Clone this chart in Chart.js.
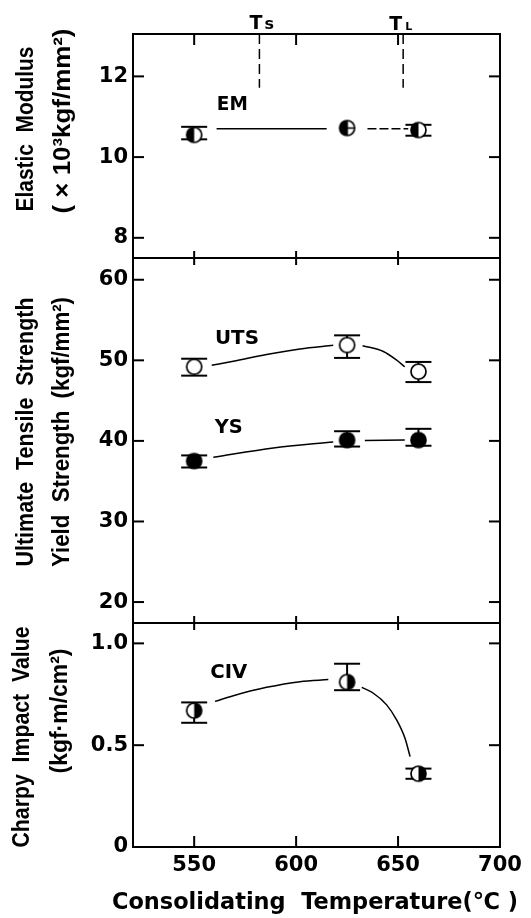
<!DOCTYPE html>
<html>
<head>
<meta charset="utf-8">
<script src="https://cdn.jsdelivr.net/npm/chart.js@4.4.0/dist/chart.umd.min.js"></script>
<style>
  html, body { margin: 0; padding: 0; background: #fff; }
  #wrap { width: 531px; height: 918px; }
</style>
</head>
<body>
<div id="wrap"><canvas id="c" width="531" height="918"></canvas></div>
<script>
// consolidating temperatures (degC)
var temps = [550, 625, 660];

// elastic modulus (x10^3 kgf/mm2)
var emVals = [10.55, 10.72, 10.67];
var emLo = [10.44, 10.72, 10.53];
var emHi = [10.75, 10.72, 10.80];

// ultimate tensile / yield strength (kgf/mm2)
var utsVals = [49.2, 51.9, 48.6];
var utsLo = [48.1, 50.3, 47.3];
var utsHi = [50.2, 53.1, 49.8];
var ysVals = [37.5, 40.1, 40.1];
var ysLo = [36.7, 39.3, 39.4];
var ysHi = [38.2, 41.2, 41.5];

// charpy impact value (kgf.m/cm2)
var civVals = [0.67, 0.81, 0.36];
var civLo = [0.61, 0.77, 0.335];
var civHi = [0.71, 0.90, 0.385];

// hand drawn trend curves, null = break in the line
var emCurveX = [561, 615, 625, 635, 655];
var emCurveY = [10.7, 10.7, null, 10.7, 10.7];
var utsCurveX = [558.6, 569.2, 585.5, 601.9, 618.2, 625, 632.6, 642.8, 649.0, 653.3];
var utsCurveY = [49.38, 49.88, 50.71, 51.41, 51.86, null, 51.82, 51.1, 50.08, 49.2];
var ysCurveX = [559.4, 588.8, 618.2, 625, 633.7, 653.3];
var ysCurveY = [37.97, 39.13, 39.87, null, 40.05, 40.1];
var civCurveX = [560.2, 569.2, 585.5, 601.9, 615.8, 625, 632.2, 637.9, 644.4, 649.3, 653.4, 655.9];
var civCurveY = [0.715, 0.743, 0.784, 0.812, 0.822, null, 0.784, 0.755, 0.698, 0.624, 0.534, 0.444];

// axes
var xTicks = [550, 600, 650, 700];
var emTicks = [8, 10, 12];
var emTickLabels = ['8', '10', '12'];
var strTicks = [20, 30, 40, 50, 60];
var strTickLabels = ['20', '30', '40', '50', '60'];
var civTicks = [0, 0.5, 1.0];
var civTickLabels = ['0', '0.5', '1.0'];

// solidus / liquidus marks
var tsTemp = 582;
var tlTemp = 652.5;
var tMarkBottom = 11.72;

var numFont = { family: 'DejaVu Sans', size: 21, weight: 'bold' };

function pts(xs, ys) {
  return xs.map(function (x, i) { return { x: x, y: ys[i] }; });
}

function mk(kind) {
  var r = 7.5, s = 2 * r + 4, c = s / 2;
  var cv = document.createElement('canvas');
  cv.width = s; cv.height = s;
  var g = cv.getContext('2d');
  g.beginPath(); g.arc(c, c, r, 0, 2 * Math.PI);
  g.fillStyle = kind == 'filled' ? '#000' : '#fff';
  g.fill();
  if (kind == 'left' || kind == 'cross') {
    g.beginPath(); g.moveTo(c, c);
    g.arc(c, c, r, -Math.PI / 2, Math.PI / 2, true);
    g.closePath(); g.fillStyle = '#000'; g.fill();
  }
  if (kind == 'right') {
    g.beginPath(); g.moveTo(c, c);
    g.arc(c, c, r, -Math.PI / 2, Math.PI / 2, false);
    g.closePath(); g.fillStyle = '#000'; g.fill();
  }
  g.lineWidth = 1.7; g.strokeStyle = '#000';
  g.beginPath(); g.arc(c, c, r, 0, 2 * Math.PI); g.stroke();
  if (kind == 'cross') {
    g.beginPath();
    g.moveTo(c - r, c); g.lineTo(c + r, c);
    g.moveTo(c, c - r); g.lineTo(c, c + r);
    g.stroke();
  }
  return cv;
}

function yScale(weight, min, max, ticks, labels) {
  return {
    type: 'linear', position: 'left', stack: 'panels', stackWeight: weight,
    min: min, max: max,
    grid: { display: false, drawTicks: false },
    border: { display: false },
    ticks: {
      font: numFont, color: '#000', padding: 5, autoSkip: false,
      callback: function (v, i) { return labels[i]; }
    },
    afterBuildTicks: function (s) { s.ticks = ticks.map(function (v) { return { value: v }; }); },
    afterFit: function (s) { s.width = 133; }
  };
}

function line(ctx, x1, y1, x2, y2) {
  ctx.beginPath(); ctx.moveTo(x1, y1); ctx.lineTo(x2, y2); ctx.stroke();
}

function fitText(ctx, s, cx, cy, font, width, rotated) {
  ctx.save();
  ctx.translate(cx, cy);
  if (rotated) ctx.rotate(-Math.PI / 2);
  ctx.font = font;
  ctx.textAlign = 'center';
  ctx.textBaseline = 'middle';
  var w = ctx.measureText(s).width;
  if (width) ctx.scale(width / w, 1);
  ctx.fillText(s, 0, 0);
  ctx.restore();
}

var errSeries = [
  { axis: 'yEM', lo: emLo, hi: emHi },
  { axis: 'yStr', lo: utsLo, hi: utsHi },
  { axis: 'yStr', lo: ysLo, hi: ysHi },
  { axis: 'yCIV', lo: civLo, hi: civHi }
];

var deco = {
  id: 'deco',
  beforeDatasetsDraw: function (chart) {
    var ctx = chart.ctx, xs = chart.scales.x;
    ctx.save();
    ctx.strokeStyle = '#000'; ctx.lineWidth = 2;
    errSeries.forEach(function (e) {
      var ys = chart.scales[e.axis];
      temps.forEach(function (t, i) {
        if (e.lo[i] == e.hi[i]) return;
        var px = xs.getPixelForValue(t);
        var y1 = ys.getPixelForValue(e.lo[i]), y2 = ys.getPixelForValue(e.hi[i]);
        line(ctx, px, y1, px, y2);
        line(ctx, px - 13, y1, px + 13, y1);
        line(ctx, px - 13, y2, px + 13, y2);
      });
    });
    ctx.restore();
  },
  afterDraw: function (chart) {
    var ctx = chart.ctx, a = chart.chartArea, xs = chart.scales.x;
    var yEM = chart.scales.yEM, yStr = chart.scales.yStr, yCIV = chart.scales.yCIV;
    var panels = [yEM, yStr, yCIV];
    ctx.save();
    ctx.strokeStyle = '#000'; ctx.fillStyle = '#000'; ctx.lineWidth = 2;
    ctx.strokeRect(a.left, a.top, a.right - a.left, a.bottom - a.top);
    line(ctx, a.left, yStr.top, a.right, yStr.top);
    line(ctx, a.left, yCIV.top, a.right, yCIV.top);
    panels.forEach(function (s) {
      s.ticks.forEach(function (t) {
        var py = s.getPixelForValue(t.value);
        line(ctx, a.left, py, a.left + 11, py);
        line(ctx, a.right - 11, py, a.right, py);
      });
    });
    xTicks.forEach(function (t) {
      var px = xs.getPixelForValue(t);
      if (px >= a.right - 1) return;
      line(ctx, px, a.top, px, a.top + 11);
      line(ctx, px, a.bottom - 11, px, a.bottom);
      line(ctx, px, yStr.top - 7, px, yStr.top + 7);
      line(ctx, px, yCIV.top - 7, px, yCIV.top + 7);
    });

    // Ts / TL
    var tsPx = xs.getPixelForValue(tsTemp), tlPx = xs.getPixelForValue(tlTemp);
    ctx.lineWidth = 1.5;
    ctx.setLineDash([10, 5]);
    line(ctx, tsPx, a.top, tsPx, yEM.getPixelForValue(tMarkBottom));
    line(ctx, tlPx, a.top, tlPx, yEM.getPixelForValue(tMarkBottom));
    ctx.setLineDash([]);
    ctx.textAlign = 'left'; ctx.textBaseline = 'alphabetic';
    ctx.font = 'bold 19px "DejaVu Sans"';
    ctx.fillText('T', tsPx - 10, 29);
    ctx.fillText('T', tlPx - 14, 30);
    ctx.font = 'bold 16px "DejaVu Sans"';
    ctx.fillText('s', tsPx + 5, 29);
    ctx.font = 'bold 11px "DejaVu Sans"';
    ctx.fillText('L', tlPx + 2, 30);

    // series labels
    var lab = 'bold 19px "DejaVu Sans"';
    fitText(ctx, 'EM', xs.getPixelForValue(568.7), yEM.getPixelForValue(11.3), lab, 31);
    fitText(ctx, 'UTS', xs.getPixelForValue(571), yStr.getPixelForValue(52.6), lab, 44);
    fitText(ctx, 'YS', xs.getPixelForValue(567), yStr.getPixelForValue(41.6), lab, 28);
    fitText(ctx, 'CIV', xs.getPixelForValue(567), yCIV.getPixelForValue(0.855), lab, 37);

    // axis titles
    var tf = 'bold 24px "Liberation Sans"';
    fitText(ctx, 'Elastic  Modulus', 26, 129, tf, 165, true);
    fitText(ctx, '( \u00d7 10\u00b3kgf/mm\u00b2)', 63, 121, tf, 185, true);
    fitText(ctx, 'Ultimate  Tensile  Strength', 26, 432, tf, 269, true);
    fitText(ctx, 'Yield  Strength  (kgf/mm\u00b2)', 62, 432, tf, 270, true);
    fitText(ctx, 'Charpy  Impact  Value', 22, 737, tf, 221, true);
    fitText(ctx, '(kgf\u00b7m/cm\u00b2)', 60, 711, tf, 125, true);
    ctx.textBaseline = 'alphabetic';
    ctx.save();
    ctx.translate(315, 909);
    ctx.font = 'bold 23px "DejaVu Sans"';
    ctx.textAlign = 'center';
    var tt = 'Consolidating  Temperature(\u2103 )';
    var w = ctx.measureText(tt).width;
    ctx.scale(406 / w, 1);
    ctx.fillText(tt, 0, 0);
    ctx.restore();
    ctx.restore();
  }
};

var fit = { borderColor: '#000', borderWidth: 1.5, pointRadius: 0, cubicInterpolationMode: 'monotone', spanGaps: false, fill: false };

new Chart(document.getElementById('c'), {
  type: 'line',
  data: {
    datasets: [
      { label: 'EM', data: pts(temps, emVals), yAxisID: 'yEM', showLine: false,
        pointStyle: [mk('left'), mk('cross'), mk('left')], pointRadius: 7 },
      { label: 'UTS', data: pts(temps, utsVals), yAxisID: 'yStr', showLine: false,
        pointStyle: mk('open'), pointRadius: 7 },
      { label: 'YS', data: pts(temps, ysVals), yAxisID: 'yStr', showLine: false,
        pointStyle: mk('filled'), pointRadius: 7 },
      { label: 'CIV', data: pts(temps, civVals), yAxisID: 'yCIV', showLine: false,
        pointStyle: mk('right'), pointRadius: 7 },
      Object.assign({ label: 'EM fit', data: pts(emCurveX, emCurveY), yAxisID: 'yEM',
        segment: { borderDash: function (c) { return c.p0.parsed.x > 625 ? [9, 3] : undefined; } } }, fit),
      Object.assign({ label: 'UTS fit', data: pts(utsCurveX, utsCurveY), yAxisID: 'yStr' }, fit),
      Object.assign({ label: 'YS fit', data: pts(ysCurveX, ysCurveY), yAxisID: 'yStr' }, fit),
      Object.assign({ label: 'CIV fit', data: pts(civCurveX, civCurveY), yAxisID: 'yCIV' }, fit)
    ]
  },
  options: {
    responsive: false,
    animation: false,
    layout: { padding: { top: 34, right: 31, left: 0, bottom: 0 } },
    plugins: { legend: { display: false }, tooltip: { enabled: false } },
    scales: {
      x: {
        type: 'linear', min: 520, max: 700,
        grid: { display: false, drawTicks: false },
        border: { display: false },
        ticks: { font: numFont, color: '#000', padding: 6, autoSkip: false, maxRotation: 0 },
        afterBuildTicks: function (s) { s.ticks = xTicks.map(function (v) { return { value: v }; }); },
        afterFit: function (s) { s.height = 71; }
      },
      // stacked panels are laid out bottom-up in definition order
      yCIV: yScale(224, 0, 1.1, civTicks, civTickLabels),
      yStr: yScale(365, 17.4, 62.7, strTicks, strTickLabels),
      yEM: yScale(224, 7.5, 13.05, emTicks, emTickLabels)
    }
  },
  plugins: [deco]
});
</script>
</body>
</html>
